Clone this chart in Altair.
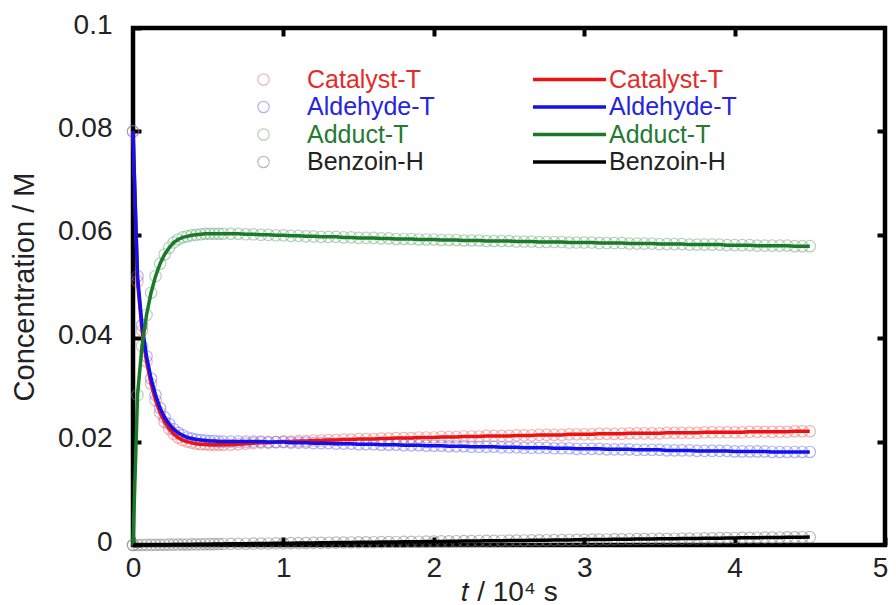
import altair as alt
import pandas as pd

# ---------------- data ----------------
series_names = ["Catalyst-T", "Aldehyde-T", "Adduct-T", "Benzoin-H"]

# time axis, in 10^4 s
t_early = [0.00, 0.03, 0.06, 0.09, 0.12, 0.15, 0.18, 0.21, 0.24, 0.27,
           0.30, 0.33, 0.36, 0.39, 0.42, 0.45, 0.48, 0.51, 0.54, 0.57, 0.60]
t_late = [0.65, 0.70, 0.75, 0.80, 0.85, 0.90, 0.95, 1.00, 1.05, 1.10,
          1.15, 1.20, 1.25, 1.30, 1.35, 1.40, 1.45, 1.50, 1.55, 1.60,
          1.65, 1.70, 1.75, 1.80, 1.85, 1.90, 1.95, 2.00, 2.05, 2.10,
          2.15, 2.20, 2.25, 2.30, 2.35, 2.40, 2.45, 2.50, 2.55, 2.60,
          2.65, 2.70, 2.75, 2.80, 2.85, 2.90, 2.95, 3.00, 3.05, 3.10,
          3.15, 3.20, 3.25, 3.30, 3.35, 3.40, 3.45, 3.50, 3.55, 3.60,
          3.65, 3.70, 3.75, 3.80, 3.85, 3.90, 3.95, 4.00, 4.05, 4.10,
          4.15, 4.20, 4.25, 4.30, 4.35, 4.40, 4.45, 4.50]

catalyst_early = [0.0800, 0.0510, 0.0415, 0.0355, 0.0312, 0.0280, 0.0256, 0.0238, 0.0225, 0.0215,
                  0.0208, 0.0203, 0.0200, 0.0198, 0.0196, 0.0195, 0.0195, 0.0194, 0.0194, 0.0194, 0.0194]
catalyst_late = [0.0194, 0.0195, 0.0196, 0.0197, 0.0198, 0.0198, 0.0199, 0.0200, 0.0200, 0.0201,
                 0.0201, 0.0202, 0.0202, 0.0203, 0.0203, 0.0204, 0.0204, 0.0205, 0.0205, 0.0205,
                 0.0206, 0.0206, 0.0207, 0.0207, 0.0207, 0.0208, 0.0208, 0.0208, 0.0209, 0.0209,
                 0.0209, 0.0210, 0.0210, 0.0210, 0.0211, 0.0211, 0.0211, 0.0211, 0.0212, 0.0212,
                 0.0212, 0.0213, 0.0213, 0.0213, 0.0213, 0.0214, 0.0214, 0.0214, 0.0214, 0.0215,
                 0.0215, 0.0215, 0.0215, 0.0216, 0.0216, 0.0216, 0.0216, 0.0216, 0.0217, 0.0217,
                 0.0217, 0.0217, 0.0217, 0.0218, 0.0218, 0.0218, 0.0218, 0.0218, 0.0218, 0.0219,
                 0.0219, 0.0219, 0.0219, 0.0219, 0.0219, 0.0220, 0.0220, 0.0220]

aldehyde_early = [0.0800, 0.0520, 0.0425, 0.0365, 0.0322, 0.0290, 0.0265, 0.0247, 0.0234, 0.0224,
                  0.0217, 0.0212, 0.0208, 0.0206, 0.0204, 0.0203, 0.0202, 0.0201, 0.0201, 0.0200, 0.0200]
aldehyde_late = [0.0200, 0.0200, 0.0200, 0.0200, 0.0200, 0.0199, 0.0199, 0.0199, 0.0198, 0.0198,
                 0.0198, 0.0197, 0.0197, 0.0197, 0.0196, 0.0196, 0.0196, 0.0195, 0.0195, 0.0195,
                 0.0194, 0.0194, 0.0194, 0.0193, 0.0193, 0.0193, 0.0192, 0.0192, 0.0192, 0.0191,
                 0.0191, 0.0191, 0.0190, 0.0190, 0.0190, 0.0190, 0.0189, 0.0189, 0.0189, 0.0188,
                 0.0188, 0.0188, 0.0188, 0.0187, 0.0187, 0.0187, 0.0186, 0.0186, 0.0186, 0.0186,
                 0.0185, 0.0185, 0.0185, 0.0185, 0.0184, 0.0184, 0.0184, 0.0184, 0.0183, 0.0183,
                 0.0183, 0.0183, 0.0182, 0.0182, 0.0182, 0.0182, 0.0182, 0.0181, 0.0181, 0.0181,
                 0.0181, 0.0181, 0.0180, 0.0180, 0.0180, 0.0180, 0.0180, 0.0180]

adduct_early = [0.0000, 0.0290, 0.0385, 0.0445, 0.0488, 0.0520, 0.0544, 0.0562, 0.0575, 0.0585,
                0.0591, 0.0595, 0.0597, 0.0599, 0.0600, 0.0601, 0.0602, 0.0602, 0.0602, 0.0602, 0.0602]
adduct_late = [0.0602, 0.0602, 0.0601, 0.0601, 0.0600, 0.0600, 0.0599, 0.0599, 0.0598, 0.0598,
               0.0597, 0.0597, 0.0596, 0.0596, 0.0596, 0.0595, 0.0595, 0.0594, 0.0594, 0.0594,
               0.0593, 0.0593, 0.0592, 0.0592, 0.0592, 0.0591, 0.0591, 0.0591, 0.0590, 0.0590,
               0.0590, 0.0589, 0.0589, 0.0589, 0.0588, 0.0588, 0.0588, 0.0588, 0.0587, 0.0587,
               0.0587, 0.0586, 0.0586, 0.0586, 0.0586, 0.0585, 0.0585, 0.0585, 0.0585, 0.0584,
               0.0584, 0.0584, 0.0584, 0.0583, 0.0583, 0.0583, 0.0583, 0.0582, 0.0582, 0.0582,
               0.0582, 0.0581, 0.0581, 0.0581, 0.0581, 0.0581, 0.0580, 0.0580, 0.0580, 0.0580,
               0.0579, 0.0579, 0.0579, 0.0579, 0.0579, 0.0578, 0.0578, 0.0578]

benzoin_early = [0.00000, 0.00000, 0.00001, 0.00002, 0.00003, 0.00004, 0.00005, 0.00006, 0.00007, 0.00008,
                 0.00009, 0.00010, 0.00011, 0.00012, 0.00013, 0.00014, 0.00015, 0.00016, 0.00017, 0.00018, 0.00020]
benzoin_late = [0.00022, 0.00024, 0.00025, 0.00027, 0.00029, 0.00030, 0.00032, 0.00034, 0.00036, 0.00037,
                0.00039, 0.00041, 0.00042, 0.00044, 0.00046, 0.00047, 0.00049, 0.00051, 0.00053, 0.00054,
                0.00056, 0.00058, 0.00059, 0.00061, 0.00063, 0.00064, 0.00066, 0.00068, 0.00070, 0.00071,
                0.00073, 0.00075, 0.00076, 0.00078, 0.00080, 0.00081, 0.00083, 0.00085, 0.00087, 0.00088,
                0.00090, 0.00092, 0.00093, 0.00095, 0.00097, 0.00098, 0.00100, 0.00102, 0.00104, 0.00105,
                0.00107, 0.00109, 0.00110, 0.00112, 0.00114, 0.00115, 0.00117, 0.00119, 0.00121, 0.00122,
                0.00124, 0.00126, 0.00127, 0.00129, 0.00131, 0.00132, 0.00134, 0.00136, 0.00138, 0.00139,
                0.00141, 0.00143, 0.00144, 0.00146, 0.00148, 0.00149, 0.00151, 0.00153]

x_ticks = [0, 1, 2, 3, 4, 5]
y_ticks = [0, 0.02, 0.04, 0.06, 0.08, 0.1]

# ---------------- table ----------------
times = t_early + t_late
all_series = [catalyst_early + catalyst_late,
              aldehyde_early + aldehyde_late,
              adduct_early + adduct_late,
              benzoin_early + benzoin_late]
for s in all_series:
    assert len(s) == len(times), (len(s), len(times))

rows = []
for name, vals in zip(series_names, all_series):
    for t, v in zip(times, vals):
        # "measured" = open circles, "model" = fitted lines (same readings)
        rows.append({"measured": name, "model": name, "t": t, "c": v})
df = pd.DataFrame(rows)

# ---------------- styles ----------------
FONT = "Liberation Sans"
marker_colors = ["#ee6a6a", "#6a6aee", "#6aa87a", "#7a7a7a"]
line_colors = ["#ee1111", "#1111ee", "#1a7a28", "#000000"]
label_expr = ("datum.label == 'Catalyst-T' ? '#e52a2a' : "
              "datum.label == 'Aldehyde-T' ? '#2525dd' : "
              "datum.label == 'Adduct-T' ? '#257a32' : '#222222'")

xscale = alt.Scale(domain=[0, 5], nice=False, zero=False)
yscale = alt.Scale(domain=[0, 0.1], nice=False, zero=False)

points = alt.Chart(df).mark_point(
    shape="circle", filled=False, size=130, strokeWidth=1.2, opacity=0.5
).encode(
    x=alt.X("t:Q", scale=xscale,
            axis=alt.Axis(orient="bottom", values=x_ticks, offset=-8, tickSize=8, tickWidth=4,
                          tickColor="black", domain=False, grid=False, labelFlush=False,
                          labelOffset={"expr": "datum.value == 5 ? -5 : 0"},
                          labelFontSize=28, labelFont=FONT, labelColor="#222222", labelPadding=9,
                          title="𝑡 / 10⁴ s", titleFont=FONT, titleFontSize=28,
                          titleFontWeight="normal", titleColor="#222222", titlePadding=-4)),
    y=alt.Y("c:Q", scale=yscale,
            axis=alt.Axis(orient="left", values=y_ticks, format=".2~f", offset=-8, tickSize=8,
                          tickWidth=4, tickColor="black", domain=False, grid=False,
                          labelFontSize=28, labelFont=FONT, labelColor="#222222", labelPadding=21,
                          labelOffset=-3,
                          title="Concentration / M", titleFont=FONT, titleFontSize=29,
                          titleFontWeight="normal", titleColor="#222222", titlePadding=18)),
    color=alt.Color("measured:N", scale=alt.Scale(domain=series_names, range=marker_colors),
                    legend=alt.Legend(orient="none", legendX=118, legendY=39, title=None,
                                      symbolType="circle", symbolSize=130, symbolStrokeWidth=1.2,
                                      symbolOpacity=0.5, labelFontSize=25, labelFont=FONT,
                                      labelOffset=31, rowPadding=1.5,
                                      labelColor={"expr": label_expr})),
)

lines = alt.Chart(df).mark_line(strokeWidth=3.5).encode(
    x=alt.X("t:Q", scale=xscale,
            axis=alt.Axis(orient="top", values=[1, 2, 3, 4], offset=-8, tickSize=8, tickWidth=4,
                          tickColor="black", domain=False, grid=False, labels=False, title=None)),
    y=alt.Y("c:Q", scale=yscale,
            axis=alt.Axis(orient="right", values=[0.02, 0.04, 0.06, 0.08], offset=-8, tickSize=8,
                          tickWidth=4, tickColor="black", domain=False, grid=False, labels=False,
                          title=None)),
    stroke=alt.Stroke("model:N", scale=alt.Scale(domain=series_names, range=line_colors),
                      legend=alt.Legend(orient="none", legendX=424, legendY=39, title=None,
                                        symbolType="M-7.3,0H7.3", symbolSize=100,
                                        symbolStrokeWidth=3.5, labelFontSize=25, labelFont=FONT,
                                        labelOffset=27, rowPadding=1.5,
                                        labelColor={"expr": label_expr})),
)

chart = alt.layer(points, lines).resolve_axis(
    x="independent", y="independent"
).resolve_scale(
    color="independent", stroke="independent"
).resolve_legend(
    color="independent", stroke="independent"
).properties(
    width=752, height=517,
    padding={"left": 125, "top": 20, "right": 3, "bottom": 60},
    autosize=alt.AutoSizeParams(type="none"),
    background="white",
).configure_view(stroke="black", strokeWidth=4.5)

chart.save("out.html", embed_options={"renderer": "svg", "actions": False})
